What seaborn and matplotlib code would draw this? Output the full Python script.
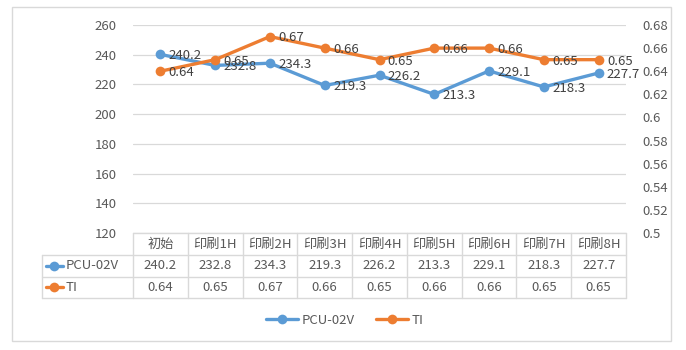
import numpy as np
import pandas as pd
import matplotlib
matplotlib.use('Agg')
import matplotlib.pyplot as plt
import seaborn as sns
from matplotlib.lines import Line2D
from matplotlib.patches import Rectangle
from matplotlib.transforms import blended_transform_factory

# 数据
categories = ['初始', '印刷1H', '印刷2H', '印刷3H', '印刷4H', '印刷5H', '印刷6H', '印刷7H', '印刷8H']
pcu_values = [240.2, 232.8, 234.3, 219.3, 226.2, 213.3, 229.1, 218.3, 227.7]
ti_values = [0.64, 0.65, 0.67, 0.66, 0.65, 0.66, 0.66, 0.65, 0.65]
series_names = ['PCU-02V', 'TI']
left_ticks = [120, 140, 160, 180, 200, 220, 240, 260]
right_ticks = [0.5, 0.52, 0.54, 0.56, 0.58, 0.6, 0.62, 0.64, 0.66, 0.68]

BLUE = '#5B9BD5'
ORANGE = '#ED7D31'
GRID = '#D9D9D9'
TXT = '#595959'
LBL = '#404040'

sns.set_theme(style='white')
plt.rcParams['font.family'] = ['Noto Sans CJK SC', 'DejaVu Sans']

df = pd.DataFrame({'cat': categories, 'pcu': pcu_values, 'ti': ti_values})

fig = plt.figure(figsize=(6.86, 3.5), dpi=100)
ax = fig.add_axes([133 / 686, 1 - 233 / 350, 493 / 686, 208 / 350])
ax2 = ax.twinx()

sns.lineplot(data=df, x='cat', y='pcu', ax=ax, color=BLUE, marker='o', markersize=7,
             markeredgewidth=0, linewidth=2.4, legend=False, sort=False)
sns.lineplot(data=df, x='cat', y='ti', ax=ax2, color=ORANGE, marker='o', markersize=7,
             markeredgewidth=0, linewidth=2.4, legend=False, sort=False)

ax.set_xlim(-0.5, len(categories) - 0.5)
ax.set_ylim(120, 260)
ax2.set_ylim(0.5, 0.68)
ax.set_yticks(left_ticks)
ax2.set_yticks(right_ticks)
ax2.set_yticklabels([f'{v:g}' for v in right_ticks])
ax.set_xticks([])
ax.set_xlabel('')
ax.set_ylabel('')
ax2.set_ylabel('')

ax.yaxis.grid(True, color=GRID, linewidth=0.9)
ax2.grid(False)
ax.set_axisbelow(True)
for a in (ax, ax2):
    for s in ['top', 'left', 'right']:
        a.spines[s].set_visible(False)
    a.spines['bottom'].set_visible(False)
ax.tick_params(axis='y', length=0, pad=12, labelsize=9.5, labelcolor=TXT)
ax2.tick_params(axis='y', length=0, pad=12, labelsize=9.5, labelcolor=TXT)

# 数据标签
for i, v in enumerate(pcu_values):
    ax.annotate(f'{v:.1f}', (i, v), xytext=(6, -1), textcoords='offset points',
                ha='left', va='center', fontsize=9.5, color=LBL)
for i, v in enumerate(ti_values):
    ax2.annotate(f'{v:.2f}', (i, v), xytext=(6, -1), textcoords='offset points',
                 ha='left', va='center', fontsize=9.5, color=LBL)

# 数据表
tr = blended_transform_factory(ax.transData, ax.transAxes)
row_y = [0, -0.1058, -0.2115, -0.3125]
x_lab = -0.1846
n = len(categories)
line_kw = dict(color=GRID, linewidth=1.0, clip_on=False)

ax.plot([-0.5, n - 0.5], [0, 0], transform=tr, **line_kw)
for y in row_y[1:]:
    ax.plot([x_lab, 1], [y, y], transform=ax.transAxes, **line_kw)
for i in range(n + 1):
    ax.plot([i - 0.5, i - 0.5], [0, row_y[-1]], transform=tr, **line_kw)
ax.plot([x_lab, x_lab], [row_y[1], row_y[-1]], transform=ax.transAxes, **line_kw)

rows = [categories, [f'{v:.1f}' for v in pcu_values], [f'{v:.2f}' for v in ti_values]]
for r, vals in enumerate(rows):
    yc = (row_y[r] + row_y[r + 1]) / 2
    for i, t in enumerate(vals):
        ax.text(i, yc, t, transform=tr, ha='center', va='center', fontsize=9.5, color=TXT)

for r, (name, col) in enumerate(zip(series_names, [BLUE, ORANGE])):
    yc = (row_y[r + 1] + row_y[r + 2]) / 2
    ax.add_line(Line2D([x_lab + 0.008, x_lab + 0.042], [yc, yc], transform=ax.transAxes,
                       color=col, linewidth=2.4, clip_on=False))
    ax.add_line(Line2D([x_lab + 0.025], [yc], transform=ax.transAxes, color=col,
                       marker='o', markersize=7, markeredgewidth=0, clip_on=False))
    ax.text(x_lab + 0.047, yc, name, transform=ax.transAxes, ha='left', va='center',
            fontsize=9.5, color=TXT)

# 图例
handles = [Line2D([], [], color=c, linewidth=2.4, marker='o', markersize=7, markeredgewidth=0)
           for c in [BLUE, ORANGE]]
leg = fig.legend(handles, series_names, loc='center', bbox_to_anchor=(345 / 686, 1 - 320 / 350),
                 ncol=2, frameon=False, handlelength=2.4, columnspacing=1.6, handletextpad=0.3,
                 fontsize=9.5)
for t in leg.get_texts():
    t.set_color(TXT)

# 外框
fig.patches.append(Rectangle((12 / 686, 1 - 341 / 350), 659 / 686, 334 / 350,
                             transform=fig.transFigure, fill=False, edgecolor=GRID, linewidth=1.0))

fig.savefig('out.png', dpi=100, facecolor='white')
